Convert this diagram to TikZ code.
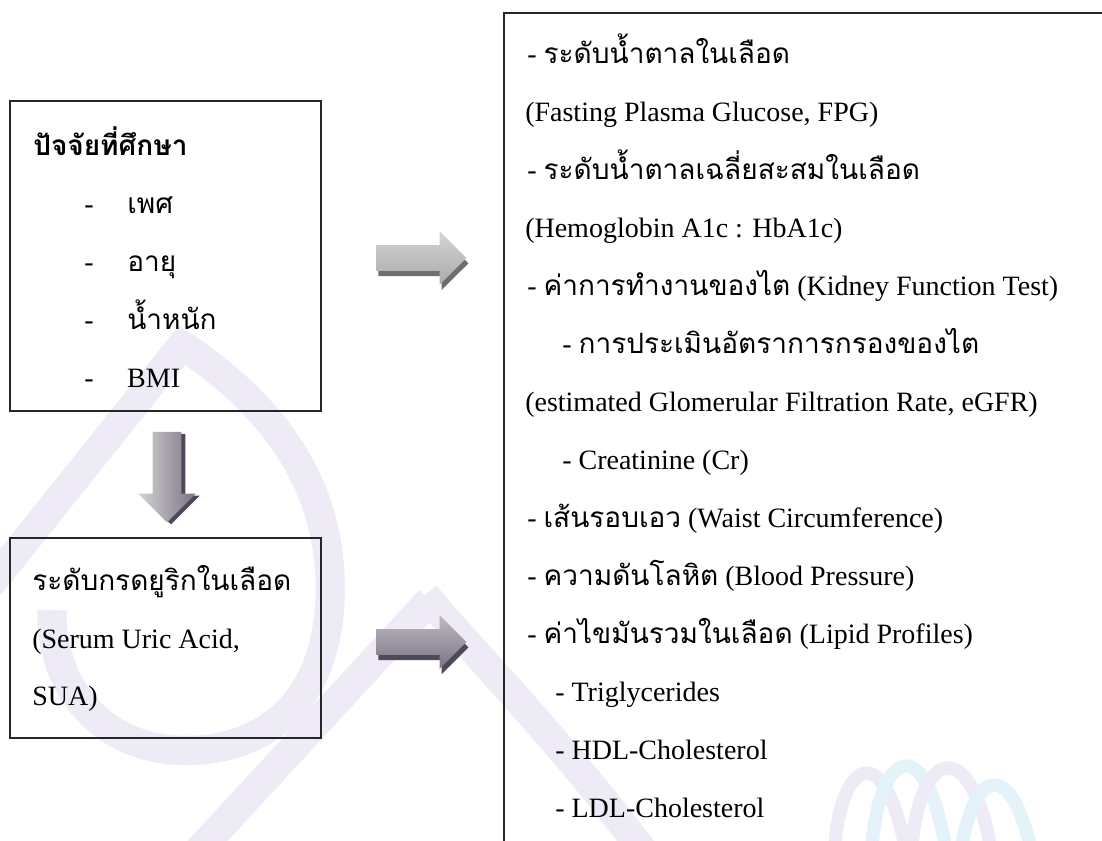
\documentclass[tikz,border=0pt]{standalone}
\usepackage{fontspec}
\setmainfont{Liberation Serif}
\newfontfamily\thaifont[Script=Thai]{Loma}
\usetikzlibrary{shapes.arrows,shadows}
\newcommand{\thtxt}[1]{{\thaifont #1}}
\definecolor{wmlav}{RGB}{238,235,246}
\definecolor{wmblue}{RGB}{228,243,250}
\definecolor{arrtop}{RGB}{212,212,212}
\definecolor{arrbot}{RGB}{170,170,170}
\definecolor{arrshade}{RGB}{110,110,110}
\definecolor{arrBtop}{RGB}{190,186,194}
\definecolor{arrBbot}{RGB}{122,116,132}
\definecolor{arrBshade}{RGB}{80,72,88}

\begin{document}
\begin{tikzpicture}[x=0.75pt, y=-0.75pt,
  box/.style={draw=black!85, line width=1.1pt, rectangle, inner sep=0pt},
  txt/.style={anchor=base west, inner sep=0pt, font=\fontsize{21}{25}\selectfont},
  blockarrow/.style={single arrow, draw=none, inner xsep=0pt, inner ysep=9.4pt,
    single arrow head extend=10.5pt, minimum height=67.5pt},
  wm/.style={draw=wmlav, line width=22pt}]
\useasboundingbox[fill=white] (0,0) rectangle (1102,840);

% watermark
\draw[wm] (-10,585) -- (182,345) .. controls (265,400) and (335,480) .. (330,600)
  .. controls (325,715) and (250,755) .. (175,750) .. controls (95,745) and (50,680) .. (52,610);
\draw[wm] (190,860) -- (430,600);
\draw[wm] (425,595) .. controls (480,660) and (560,740) .. (650,860);
\draw[wm, line width=10pt] (835,845) .. controls (840,770) and (880,730) .. (905,845);
\draw[wm, draw=wmblue, line width=10pt] (872,845) .. controls (880,750) and (925,730) .. (945,845);
\draw[wm, line width=10pt] (912,845) .. controls (920,750) and (970,735) .. (990,845);
\draw[wm, draw=wmblue, line width=10pt] (962,845) .. controls (975,770) and (1010,760) .. (1030,845);

% boxes
\node[box, minimum width=233.25pt, minimum height=232.5pt] (factors) at (165.5,256) {};
\node[box, minimum width=233.25pt, minimum height=150pt] (uric) at (165.5,638) {};
\node[box, minimum width=465pt, minimum height=645pt] (outcomes) at (814,443) {};

% arrows
\node[blockarrow, top color=arrtop, bottom color=arrbot,
  drop shadow={shadow xshift=1.5pt, shadow yshift=-4pt, fill=arrshade, opacity=1}]
  (toOutcomesA) at (415,258) {};
\node[blockarrow, top color=arrBtop, bottom color=arrBbot,
  drop shadow={shadow xshift=1.5pt, shadow yshift=-4pt, fill=arrBshade, opacity=1}]
  (toOutcomesB) at (415,642) {};
\node[blockarrow, shape border rotate=270, inner xsep=10.5pt, inner ysep=0pt,
  single arrow head extend=11pt, minimum height=68pt,
  left color=arrtop, right color=arrBbot,
  drop shadow={shadow xshift=3pt, shadow yshift=-1.5pt, fill=arrBshade, opacity=1}]
  (toUric) at (167,470) {};

% left texts
\node[txt, font=\fontsize{21}{25}\selectfont\thaifont\bfseries] (title) at (33,155) {ปัจจัยที่ศึกษา};
\node[txt] (sex) at (84,213) {\makebox[32.25pt][l]{-}\thtxt{เพศ}};
\node[txt] (age) at (84,271) {\makebox[32.25pt][l]{-}\thtxt{อายุ}};
\node[txt] (weight) at (84,329) {\makebox[32.25pt][l]{-}\thtxt{น้ำหนัก}};
\node[txt] (bmi) at (84,387) {\makebox[32.25pt][l]{-}BMI};
\node[txt] (suaA) at (32,590) {\thtxt{ระดับกรดยูริกในเลือด}};
\node[txt] (suaB) at (32,648) {(Serum Uric Acid,};
\node[txt] (suaC) at (32,705) {SUA)};

% right texts
\node[txt] (fpgA) at (527,63) {- \thtxt{ระดับน้ำตาลในเลือด}};
\node[txt] (fpgB) at (525,121) {(Fasting Plasma Glucose, FPG)};
\node[txt] (hbaA) at (527,179) {- \thtxt{ระดับน้ำตาลเฉลี่ยสะสมในเลือด}};
\node[txt] (hbaB) at (525,237) {(Hemoglobin A1c : HbA1c)};
\node[txt] (kidney) at (527,295) {- \thtxt{ค่าการทำงานของไต} (Kidney Function Test)};
\node[txt] (gfrA) at (562,353) {- \thtxt{การประเมินอัตราการกรองของไต}};
\node[txt] (gfrB) at (525,411) {(estimated Glomerular Filtration Rate, eGFR)};
\node[txt] (cr) at (562,469) {- Creatinine (Cr)};
\node[txt] (waist) at (527,527) {- \thtxt{เส้นรอบเอว} (Waist Circumference)};
\node[txt] (bp) at (527,585) {- \thtxt{ความดันโลหิต} (Blood Pressure)};
\node[txt] (lipid) at (527,643) {- \thtxt{ค่าไขมันรวมในเลือด} (Lipid Profiles)};
\node[txt] (tg) at (555,701) {- Triglycerides};
\node[txt] (hdl) at (555,759) {- HDL-Cholesterol};
\node[txt] (ldl) at (555,817) {- LDL-Cholesterol};
\end{tikzpicture}
\end{document}
